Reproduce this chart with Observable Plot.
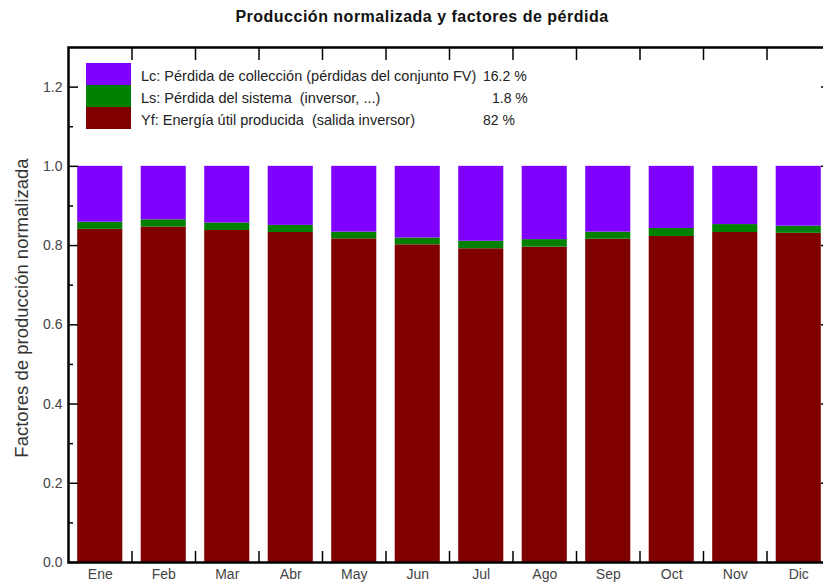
<!DOCTYPE html>
<html>
<head>
<meta charset="utf-8">
<script src="https://cdn.jsdelivr.net/npm/d3@7"></script>
<script src="https://cdn.jsdelivr.net/npm/@observablehq/plot@0.6"></script>
<style>
  html, body { margin: 0; padding: 0; background: #fff; overflow: hidden; }
  #wrap { position: relative; width: 823px; height: 585px; overflow: hidden; font-family: "Liberation Sans", Arial, sans-serif; }
  #chart { position: absolute; left: 0; top: 0; width: 832px; height: 585px; }
  #chart svg { max-width: none !important; width: 832px !important; height: 585px !important; display: block; }
  #title { position: absolute; left: 0; top: 8px; width: 844px; text-align: center; font-size: 16px; letter-spacing: 0.5px; line-height: 18px; font-weight: bold; color: #111; }
  #ylabel { position: absolute; left: 22px; top: 308px; transform: translate(-50%, -50%) rotate(-90deg); white-space: nowrap; font-family: "Liberation Sans", Arial, sans-serif; font-size: 18.5px; line-height: 20px; color: #333; }
  .sw { position: absolute; left: 86px; width: 45px; height: 22px; }
  .lt { position: absolute; left: 141px; font-size: 14.5px; line-height: 22px; color: #222; white-space: pre; }
  .lp { position: absolute; font-size: 14px; line-height: 22px; color: #222; white-space: pre; }
</style>
</head>
<body>
<div id="wrap">
  <div id="chart"></div>
  <div id="title"></div>
  <div id="ylabel"></div>
  <div id="legend"></div>
</div>
<script>
// ---- data ----
const months = ["Ene", "Feb", "Mar", "Abr", "May", "Jun", "Jul", "Ago", "Sep", "Oct", "Nov", "Dic"];
// Yf: energía útil producida (normalized)
const yf = [0.841, 0.847, 0.838, 0.833, 0.817, 0.802, 0.792, 0.796, 0.816, 0.823, 0.833, 0.831];
// Ls: pérdida del sistema
const ls = [0.018, 0.018, 0.019, 0.018, 0.017, 0.017, 0.019, 0.019, 0.018, 0.020, 0.020, 0.018];
// Lc: pérdida de colección = remainder up to 1.0
const total = 1.0;
const yTicks = [0, 0.2, 0.4, 0.6, 0.8, 1.0, 1.2];
const yMinorTicks = [0.1, 0.3, 0.5, 0.7, 0.9, 1.1];
const legendLabels = [
  "Lc: Pérdida de collección (pérdidas del conjunto FV)",
  "Ls: Pérdida del sistema  (inversor, ...)",
  "Yf: Energía útil producida  (salida inversor)"
];
const legendPct = ["16.2 %", "1.8 %", "82 %"];
const titleText = "Producción normalizada y factores de pérdida";
const yLabelText = "Factores de producción normalizada";

// ---- styles ----
const colors = {Lc: "#8000ff", Ls: "#008000", Yf: "#800000"};
const legendKeys = ["Lc", "Ls", "Yf"];
const pctLeft = [483, 492, 483];
const half = 0.355;

// ---- build rows ----
const idx = months.map((_, i) => i);
const rows = [];
idx.forEach(i => {
  rows.push({i, key: "Yf", y1: 0, y2: yf[i]});
  rows.push({i, key: "Ls", y1: yf[i], y2: yf[i] + ls[i]});
  rows.push({i, key: "Lc", y1: yf[i] + ls[i], y2: total});
});
const boundaries = idx.slice(1).map(i => i - 0.5);

const tick = {fill: "none", stroke: "black", strokeWidth: 1.5, label: null};

const chart = Plot.plot({
  width: 832,
  height: 585,
  marginTop: 47,
  marginBottom: 23,
  marginLeft: 68,
  marginRight: 2,
  x: {type: "linear", domain: [-0.5, 11.5], axis: null},
  y: {domain: [0, 1.3], axis: null},
  style: {fontFamily: "Liberation Sans, Arial, sans-serif", fontSize: "14px", background: "white", overflow: "visible"},
  marks: [
    Plot.rectY(rows, {x1: d => d.i - half, x2: d => d.i + half, y1: "y1", y2: "y2", fill: d => colors[d.key]}),
    // left axis labels
    Plot.axisY({anchor: "left", ticks: yTicks, tickSize: 0, tickPadding: 6, tickFormat: d3.format(".1f"), fill: "#444", label: null}),
    // inward ticks
    Plot.axisY({anchor: "left", ticks: yTicks, tickSize: 10, dx: 10, ...tick}),
    Plot.axisY({anchor: "left", ticks: yMinorTicks, tickSize: 5, dx: 5, ...tick}),
    Plot.axisY({anchor: "right", ticks: yTicks, tickSize: 10, dx: -10, ...tick}),
    Plot.axisY({anchor: "right", ticks: yMinorTicks, tickSize: 5, dx: -5, ...tick}),
    // month labels
    Plot.axisX({anchor: "bottom", ticks: idx, tickSize: 0, tickPadding: 7, tickFormat: i => months[i], fill: "#444", label: null}),
    Plot.axisX({anchor: "bottom", ticks: boundaries, tickSize: 11, dy: -11, ...tick}),
    Plot.axisX({anchor: "top", ticks: boundaries, tickSize: 12, dy: 12, ...tick}),
    Plot.frame({stroke: "black", strokeWidth: 2.5})
  ]
});
document.getElementById("chart").appendChild(chart);

document.getElementById("title").textContent = titleText;
document.getElementById("ylabel").textContent = yLabelText;

const legend = document.getElementById("legend");
legendKeys.forEach((k, j) => {
  const sw = document.createElement("div");
  sw.className = "sw";
  sw.style.top = (63 + j * 22) + "px";
  sw.style.background = colors[k];
  legend.appendChild(sw);
  const t = document.createElement("div");
  t.className = "lt";
  t.style.top = (65 + j * 22) + "px";
  t.textContent = legendLabels[j];
  legend.appendChild(t);
  const p = document.createElement("div");
  p.className = "lp";
  p.style.top = (65 + j * 22) + "px";
  p.style.left = pctLeft[j] + "px";
  p.textContent = legendPct[j];
  legend.appendChild(p);
});
</script>
</body>
</html>
